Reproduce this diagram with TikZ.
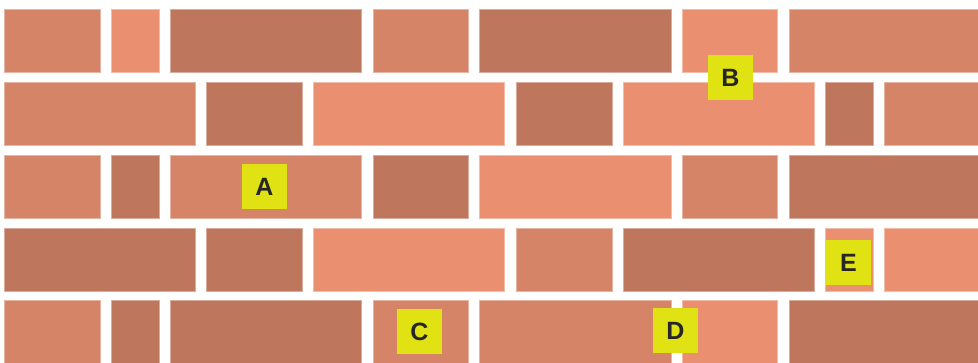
\documentclass[tikz,border=0pt]{standalone}
\usepackage{fontspec}
\setmainfont{Liberation Sans}
\definecolor{bmed}{HTML}{D68467}
\definecolor{blight}{HTML}{EA9070}
\definecolor{bdark}{HTML}{BE775D}
\definecolor{tagyellow}{HTML}{E0E214}
\begin{document}
\begin{tikzpicture}[x=1pt,y=-1pt,
  brick/.style={fill=#1, draw=#1!60!white, line width=0.6pt},
  tagbox/.style={fill=tagyellow, minimum size=45pt, inner sep=0pt,
    font=\fontsize{25}{25}\selectfont\bfseries, text=black!85}]
\useasboundingbox (0,0) rectangle (978,362);
\fill[white] (0,0) rectangle (978,362);
\begin{scope}
\clip (0,0) rectangle (978,362);
% row 1
\foreach \a/\b/\c in {4/100/bmed,111/159/blight,170/361/bdark,373/468/bmed,479/671/bdark,682/777/blight,789/995/bmed}
  \path[brick=\c] (\a,9) rectangle (\b,72);
% row 2
\foreach \a/\b/\c in {4/195/bmed,206/302/bdark,313/504/blight,516/612/bdark,623/814/blight,825/873/bdark,884/995/bmed}
  \path[brick=\c] (\a,82) rectangle (\b,145);
% row 3
\foreach \a/\b/\c in {4/100/bmed,111/159/bdark,170/361/bmed,373/468/bdark,479/671/blight,682/777/bmed,789/995/bdark}
  \path[brick=\c] (\a,155) rectangle (\b,218);
% row 4
\foreach \a/\b/\c in {4/195/bdark,206/302/bdark,313/504/blight,516/612/bmed,623/814/bdark,825/873/blight,884/995/blight}
  \path[brick=\c] (\a,228) rectangle (\b,291);
% row 5
\foreach \a/\b/\c in {4/100/bmed,111/159/bdark,170/361/bdark,373/468/bmed,479/671/bmed,682/777/blight,789/995/bdark}
  \path[brick=\c] (\a,300) rectangle (\b,380);
\end{scope}
\node[tagbox] (A) at (264.5,186.5) {A};
\node[tagbox] (B) at (730.5,77.5) {B};
\node[tagbox] (C) at (419.5,331.5) {C};
\node[tagbox] (D) at (675.5,330.5) {D};
\node[tagbox] (E) at (848.5,262.5) {E};
\end{tikzpicture}
\end{document}
